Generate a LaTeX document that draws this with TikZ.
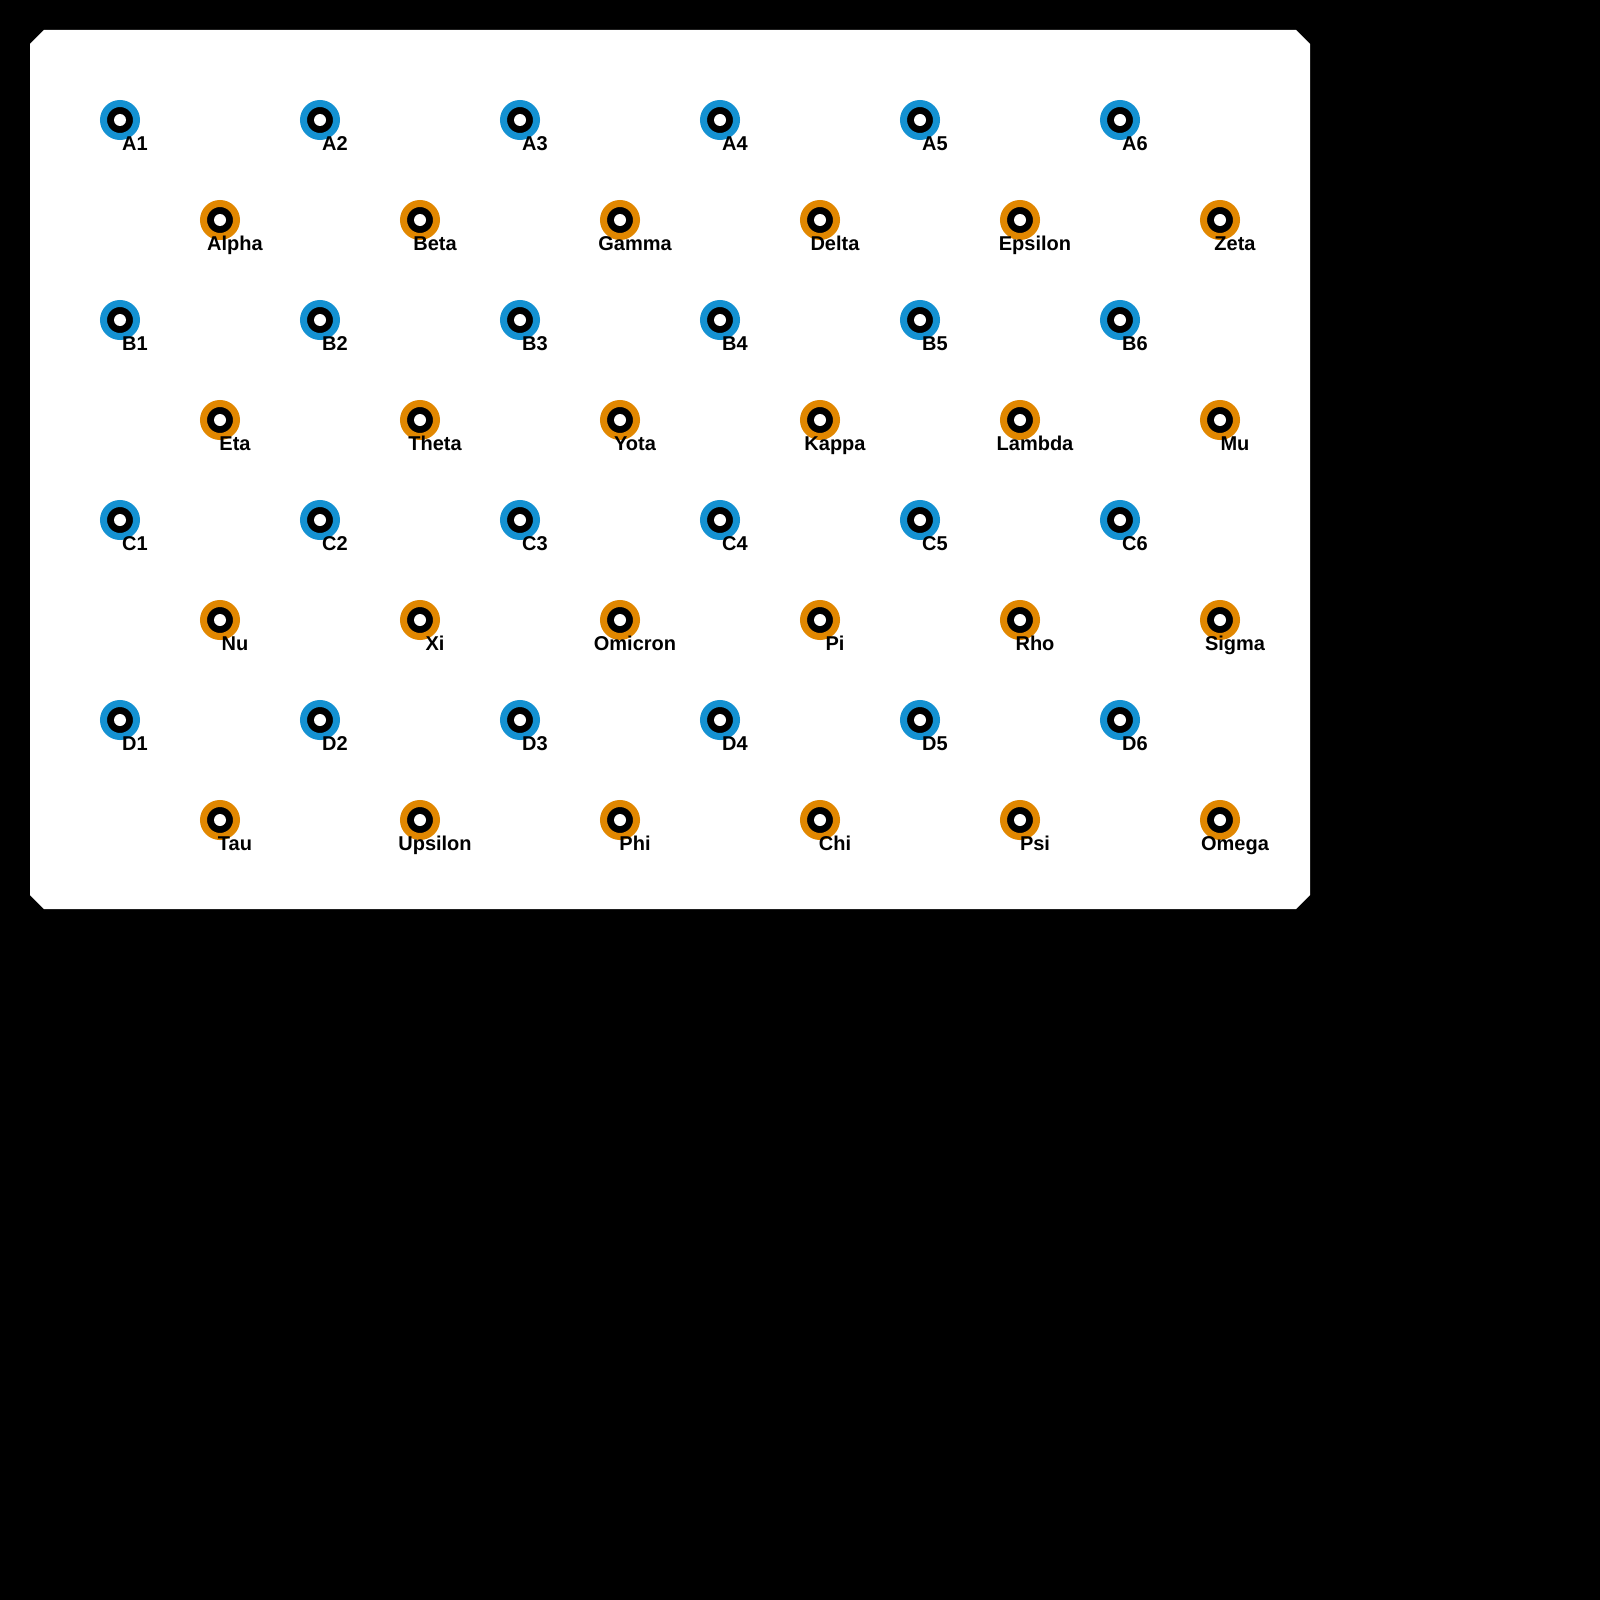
\documentclass[tikz,border=0pt]{standalone}
\usepackage{fontspec}
\setmainfont{Liberation Sans}
\definecolor{stopblue}{RGB}{20,145,210}
\definecolor{stoporange}{RGB}{225,135,0}
\tikzset{
  station/.style={circle, inner sep=0pt, minimum size=33pt, line width=7pt, fill=black,
    path picture={\fill[white] (path picture bounding box.center) circle (6pt);}},
  tag/.style={anchor=base, inner sep=0pt, font=\bfseries\fontsize{20}{22}\selectfont}
}
\begin{document}
\begin{tikzpicture}[x=1pt, y=-1pt]
  % 1. black page and white card
  \fill[black] (0,0) rectangle (1600,1600);
  \useasboundingbox (0,0) rectangle (1600,1600);
  \fill[white] (44,30) -- (1296,30) -- (1310,44) -- (1310,895) -- (1296,909)
    -- (44,909) -- (30,895) -- (30,44) -- cycle;

  % 2. blue stations A..D
  \foreach \r [count=\k from 0] in {A,B,C,D}
    \foreach \i in {1,...,6} {
      \node[station, draw=stopblue] (\r\i) at ({120+200*(\i-1)}, {120+200*\k}) {};
      \node[tag] (\r\i-tag) at ([shift={(15,30)}]\r\i.center) {\r\i};
    }

  % 3. orange stations
  \foreach \row [count=\k from 0] in {{Alpha,Beta,Gamma,Delta,Epsilon,Zeta},
      {Eta,Theta,Yota,Kappa,Lambda,Mu},
      {Nu,Xi,Omicron,Pi,Rho,Sigma},
      {Tau,Upsilon,Phi,Chi,Psi,Omega}}
    \foreach \n [count=\i from 0] in \row {
      \node[station, draw=stoporange] (\n) at ({220+200*\i}, {220+200*\k}) {};
      \node[tag] (\n-tag) at ([shift={(15,30)}]\n.center) {\n};
    }
\end{tikzpicture}
\end{document}
